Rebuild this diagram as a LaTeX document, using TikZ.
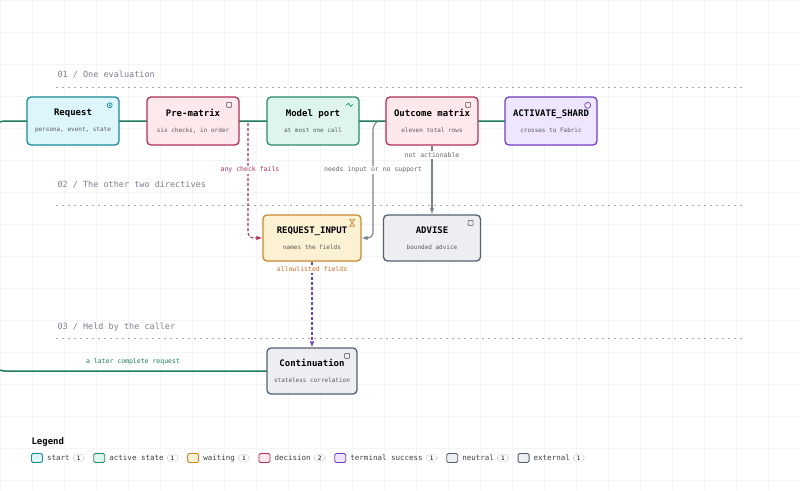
\documentclass[tikz,border=0pt]{standalone}
\usepackage{fontspec}
\setmonofont{DejaVu Sans Mono}
\usetikzlibrary{positioning, arrows.meta}
\definecolor{cyanF}{HTML}{DDF6FB}\definecolor{cyanD}{HTML}{1A8A9A}
\definecolor{redF}{HTML}{FDE8EC}\definecolor{redD}{HTML}{B0305A}
\definecolor{grnF}{HTML}{DDF5EA}\definecolor{grnD}{HTML}{2A8A6A}
\definecolor{vioF}{HTML}{EDE6FD}\definecolor{vioD}{HTML}{7040C0}
\definecolor{ambF}{HTML}{FDF1D4}\definecolor{ambD}{HTML}{C88A30}
\definecolor{gryF}{HTML}{ECEEF2}\definecolor{gryD}{HTML}{556070}
\definecolor{flow}{HTML}{1F7A5F}\definecolor{muted}{HTML}{7A8090}
\tikzset{
  box/.style={draw, rounded corners=4pt, line width=1.3pt, minimum width=92pt,
    minimum height=48pt, align=center, font=\ttfamily, inner sep=2pt},
  sect/.style={font=\ttfamily\fontsize{8.5}{10}\selectfont, text=muted, anchor=west},
  lbl/.style={font=\ttfamily\fontsize{6.5}{7}\selectfont, fill=white, inner sep=1pt},
  main/.style={draw=flow, line width=1.5pt},
  sw/.style={draw, rounded corners=1.5pt, line width=0.9pt, minimum width=11pt, minimum height=9pt, inner sep=0pt},
  cnt/.style={draw=black!20, rounded corners=4.5pt, font=\ttfamily\fontsize{6}{7}\selectfont, inner sep=1.8pt, minimum width=11pt},
  leg/.style={font=\ttfamily\fontsize{7.5}{8}\selectfont, text=black!75, inner sep=1pt}
}
\newcommand{\boxtext}[2]{{\bfseries\fontsize{9}{10}\selectfont #1}\\[4pt]{\fontsize{6}{7}\selectfont\color{black!65}#2}}
\begin{document}
\begin{tikzpicture}[x=1pt, y=-1pt]
\useasboundingbox (0,0) rectangle (800,490);
\fill[white] (0,0) rectangle (800,490);
% grid
\foreach \gx in {0,32,...,800} \draw[black!4] (\gx,0) -- (\gx,490);
\foreach \gy in {0,32,...,490} \draw[black!4] (0,\gy) -- (800,\gy);

% sections
\node[sect] (s1) at (54,75) {01 / One evaluation};
\node[sect] (s2) at (54,185) {02 / The other two directives};
\node[sect] (s3) at (54,327) {03 / Held by the caller};
\draw[muted!70, line width=0.9pt, dash pattern=on 1.5pt off 4.5pt] (56,87) -- (742,87);
\draw[muted!70, line width=0.9pt, dash pattern=on 1.5pt off 4.5pt] (56,205) -- (742,205);
\draw[muted!70, line width=0.9pt, dash pattern=on 1.5pt off 4.5pt] (56,338) -- (742,338);

% main loop behind boxes
\draw[main, rounded corners=10pt] (312,371) -- (-6,371) -- (-6,121) -- (560,121);

% nodes
\node[box, draw=cyanD, fill=cyanF] (req) at (73,121) {\boxtext{Request}{persona, event, state}};
\node[box, draw=redD, fill=redF] (pre) at (193,121) {\boxtext{Pre-matrix}{six checks, in order}};
\node[box, draw=grnD, fill=grnF] (mod) at (313,121) {\boxtext{Model port}{at most one call}};
\node[box, draw=redD, fill=redF] (out) at (432,121) {\boxtext{Outcome matrix}{eleven total rows}};
\node[box, draw=vioD, fill=vioF] (act) at (551,121) {\boxtext{ACTIVATE\_SHARD}{crosses to Fabric}};
\node[box, draw=ambD, fill=ambF, minimum width=98pt, minimum height=46pt] (rin) at (312,238) {\boxtext{REQUEST\_INPUT}{names the fields}};
\node[box, draw=gryD, fill=gryF, minimum width=97pt, minimum height=46pt] (adv) at (432,238) {\boxtext{ADVISE}{bounded advice}};
\node[box, draw=gryD, fill=gryF, minimum width=90pt, minimum height=46pt] (con) at (312,371) {\boxtext{Continuation}{stateless correlation}};

% icons
\draw[cyanD, line width=0.7pt] ([shift={(-10,9)}]req.north east) circle (2.5pt);
\fill[cyanD] ([shift={(-10,9)}]req.north east) circle (1pt);
\draw[black!70, line width=0.6pt, rounded corners=0.8pt] ([shift={(-13,6)}]pre.north east) rectangle +(5,5);
\draw[grnD, line width=0.7pt] ([shift={(-14,9)}]mod.north east) -- +(3,-2) -- +(5,1) -- +(7,-1);
\draw[black!70, line width=0.6pt, rounded corners=0.8pt] ([shift={(-13,6)}]out.north east) rectangle +(5,5);
\draw[vioD, line width=0.7pt] ([shift={(-10,9)}]act.north east) circle (3pt);
\draw[ambD, line width=0.7pt] ([shift={(-12,5)}]rin.north east) -- +(5,0) -- +(0,7) -- +(5,7) -- cycle;
\draw[black!70, line width=0.6pt, rounded corners=0.8pt] ([shift={(-13,6)}]adv.north east) rectangle +(5,5);
\draw[black!70, line width=0.6pt, rounded corners=0.8pt] ([shift={(-13,6)}]con.north east) rectangle +(5,5);

% connectors
\coordinate (redst) at (248,123);
\coordinate (gryst) at (378,121);
\draw[redD, line width=1.1pt, dash pattern=on 3pt off 2pt, rounded corners=5pt, -{Latex[length=6pt]}]
  (redst) -- (248,238) -- (rin.west);
\node[lbl, text=redD] (l1) at (250,170) {any check fails};
\draw[muted, line width=1.1pt, rounded corners=5pt, -{Latex[length=6pt]}]
  (gryst) -- (373,125) -- (373,238) -- (rin.east);
\node[lbl, text=black!60] (l2) at (373,170) {needs input or no support};
\draw[muted, line width=1.1pt, -{Latex[length=6pt]}] (out.south) -- (adv.north);
\node[lbl, text=black!60] (l3) at (432,155) {not actionable};
\draw[vioD, line width=1.1pt, dash pattern=on 3pt off 2pt, -{Latex[length=6pt]}] (rin.south) -- (con.north);
\node[lbl, text=ambD!80!red] (l4) at (312,269) {allowlisted fields};
\node[lbl, text=flow, fill=none] (l5) at (133,362) {a later complete request};

% legend
\node[font=\ttfamily\bfseries\fontsize{9}{10}\selectfont, anchor=west] (lg) at (28,442) {Legend};
\node[sw, draw=cyanD, fill=cyanF] (k1) at (37,458) {};
\node[leg, right=3pt of k1] (t1) {start}; \node[cnt, right=2pt of t1] (c1) {1};
\node[sw, draw=grnD, fill=grnF, right=9pt of c1] (k2) {};
\node[leg, right=3pt of k2] (t2) {active state}; \node[cnt, right=2pt of t2] (c2) {1};
\node[sw, draw=ambD, fill=ambF, right=9pt of c2] (k3) {};
\node[leg, right=3pt of k3] (t3) {waiting}; \node[cnt, right=2pt of t3] (c3) {1};
\node[sw, draw=redD, fill=redF, right=9pt of c3] (k4) {};
\node[leg, right=3pt of k4] (t4) {decision}; \node[cnt, right=2pt of t4] (c4) {2};
\node[sw, draw=vioD, fill=vioF, right=9pt of c4] (k5) {};
\node[leg, right=3pt of k5] (t5) {terminal success}; \node[cnt, right=2pt of t5] (c5) {1};
\node[sw, draw=gryD, fill=gryF, right=9pt of c5] (k6) {};
\node[leg, right=3pt of k6] (t6) {neutral}; \node[cnt, right=2pt of t6] (c6) {1};
\node[sw, draw=gryD, fill=gryF, right=9pt of c6] (k7) {};
\node[leg, right=3pt of k7] (t7) {external}; \node[cnt, right=2pt of t7] (c7) {1};
\end{tikzpicture}
\end{document}
